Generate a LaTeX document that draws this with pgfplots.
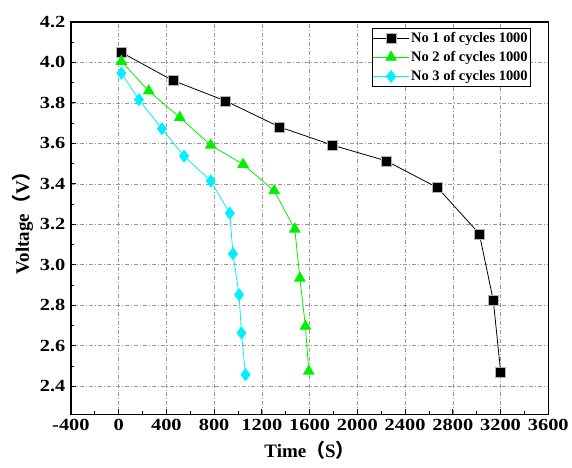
\documentclass[border=0pt]{standalone}
\usepackage{fontspec}
\setmainfont{Liberation Serif}
\newfontfamily\tickfont{Liberation Serif}[FakeStretch=1.2]
\newfontfamily\cjk{Noto Sans CJK SC}
\usepackage{pgfplots}
\pgfplotsset{compat=1.18}
\begin{document}
\begin{tikzpicture}
\definecolor{CBlack}{HTML}{000000}
\definecolor{CGreen}{HTML}{00F000}
\definecolor{CCyan}{HTML}{00F0FF}
\begin{axis}[
  scale only axis,
  width=478pt, height=393pt,
  xmin=-400, xmax=3600, ymin=2.26, ymax=4.2,
  xtick={-400,0,...,3600}, ytick={2.4,2.6,...,4.21},
  minor x tick num=1, minor y tick num=1,
  xtick pos=bottom, ytick pos=left,
  tick align=inside,
  major tick length=5pt, minor tick length=3pt,
  axis line style={line width=1.3pt},
  tick style={black, line width=0.8pt},
  grid=major,
  major grid style={gray!80, line width=0.6pt, dash pattern=on 4pt off 2pt on 1pt off 2pt},
  /pgf/number format/assume math mode=true,
  xticklabel style={font=\tickfont\fontsize{17}{19}\selectfont\bfseries, yshift=-1pt, /pgf/number format/.cd, 1000 sep={}},
  yticklabel style={font=\tickfont\fontsize{17}{19}\selectfont\bfseries, xshift=-2pt, /pgf/number format/.cd, fixed, fixed zerofill, precision=1},
  xlabel={Time{\cjk （}S{\cjk ）}},
  ylabel={Voltage{\cjk （}V{\cjk ）}},
  label style={font=\fontsize{19}{22}\selectfont\bfseries},
  xlabel style={yshift=-4pt},
  legend style={font=\fontsize{14.5}{16}\selectfont\bfseries, at={(0.964,0.985)}, anchor=north east, draw=black, line width=0.8pt, inner xsep=1pt, inner ysep=2pt, row sep=3.5pt},
  legend cell align=left,
  legend image code/.code={\draw[mark repeat=2, mark phase=2] plot coordinates {(0cm,0cm) (0.62cm,0cm) (1.24cm,0cm)};},
]
\addplot[CBlack, line width=0.8pt, mark=square*, mark size=5pt, mark options={fill=black, draw=white!70!black, line width=0.4pt}] coordinates {
  (25,4.049) (453,3.911) (895,3.810) (1348,3.681) (1792,3.591) (2239,3.514) (2672,3.381) (3022,3.153) (3139,2.824) (3201,2.469)};
\addlegendentry{No 1 of cycles 1000}
\addplot[CGreen, line width=0.8pt, mark=triangle*, mark size=6pt, mark options={fill=CGreen, draw=CGreen}] coordinates {
  (23,4.005) (252,3.859) (512,3.728) (772,3.591) (1043,3.496) (1303,3.366) (1476,3.176) (1518,2.934) (1565,2.696) (1593,2.474)};
\addlegendentry{No 2 of cycles 1000}
\addplot[CCyan, line width=0.8pt, mark=diamond*, mark size=6pt, mark options={fill=CCyan, draw=CCyan}] coordinates {
  (23,3.947) (170,3.816) (363,3.672) (548,3.537) (772,3.414) (931,3.255) (958,3.054) (1009,2.852) (1029,2.663) (1063,2.457)};
\addlegendentry{No 3 of cycles 1000}
\end{axis}
\path (current axis.south west) ++(-71pt,-53pt) (current axis.north east) ++(23pt,22pt);
\end{tikzpicture}
\end{document}
